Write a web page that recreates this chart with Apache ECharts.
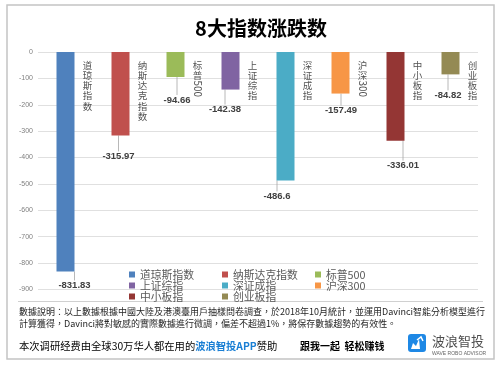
<!DOCTYPE html>
<html>
<head>
<meta charset="utf-8">
<script src="https://cdn.jsdelivr.net/npm/echarts@6/dist/echarts.min.js"></script>
<style>
html,body{margin:0;padding:0;background:#fff;}
#c{width:500px;height:366px;}
</style>
</head>
<body>
<div id="c"></div>
<script>
// ---- data ----
const categories = ['道琼斯指数','纳斯达克指数','标普500','上证综指','深证成指','沪深300','中小板指','创业板指'];
const values = [-831.83, -315.97, -94.66, -142.38, -486.6, -157.49, -336.01, -84.82];
const yMin = -900, yMax = 0, yStep = 100;
const titleText = '8大指数涨跌数';
const noteLine1 = '數據說明：以上數據根據中國大陸及港澳臺用戶抽樣問卷調查，於2018年10月統計，並運用Davinci智能分析模型進行';
const noteLine2 = '計算獲得，Davinci將對敏感的實際數據進行微調，偏差不超過1%，將保存數據趨勢的有效性。';
const sponsorA = '本次调研经费由全球30万华人都在用的';
const sponsorB = '波浪智投APP';
const sponsorC = '赞助';
const slogan = '跟我一起  轻松赚钱';
const brand = '波浪智投';
const brandSub = 'WAVE ROBO ADVISOR';

// ---- style ----
const colors = ['#4F81BD','#C0504D','#9BBB59','#8064A2','#4BACC6','#F79646','#943634','#948A54'];
const labelShift = [[9,9],[-2,16],[1.5,18],[-5.5,15],[-8.5,11],[0.5,12],[7.5,20],[-2.5,16]];
const FONT = '"Noto Sans CJK SC","Noto Sans",sans-serif';
const FONT_TC = '"Noto Sans CJK TC","Noto Sans",sans-serif';

const chart = echarts.init(document.getElementById('c'), null, {renderer:'canvas'});

const barSeries = categories.map((name, i) => ({
  name: name,
  type: 'bar',
  stack: 'all',
  barWidth: 18,
  itemStyle: {color: colors[i]},
  data: categories.map((c, j) => j === i ? values[i] : '-'),
  label: {
    show: true, position: 'bottom', distance: 0,
    fontSize: 9.5, fontWeight: 'bold', color: '#404040', fontFamily: 'Liberation Sans, sans-serif',
    formatter: p => String(p.value)
  },
  labelLayout: {dx: labelShift[i][0], dy: labelShift[i][1]},
  labelLine: {show: true, lineStyle: {color: '#a6a6a6', width: 0.8}}
}));

const cjkPart = n => n.replace(/\d+/g, '').split('').join('\n');
const digitPart = n => { const m = n.match(/\d+/); return m ? m[0] : ''; };

const nameSeries = {
  type: 'scatter', silent: true, symbolSize: 0, z: 5,
  data: categories.map(() => 0),
  label: {
    show: true, position: [22, 8], align: 'center', verticalAlign: 'top',
    fontSize: 9.5, lineHeight: 10.2, color: '#262626', fontFamily: FONT,
    formatter: p => cjkPart(categories[p.dataIndex])
  }
};
const digitSeries = {
  type: 'scatter', silent: true, symbolSize: 0, z: 5,
  data: categories.map(() => 0),
  label: {
    show: true, position: [22, 28.5], rotate: -90, align: 'left', verticalAlign: 'middle',
    fontSize: 10, color: '#262626', fontFamily: FONT,
    formatter: p => digitPart(categories[p.dataIndex])
  }
};

chart.setOption({
  backgroundColor: '#fff',
  animation: false,
  title: {
    text: titleText, left: 256, top: 13, textAlign: 'center',
    textStyle: {fontSize: 20, fontWeight: 'bold', color: '#000', fontFamily: FONT}
  },
  grid: {left: 38, right: 22, top: 52, bottom: 76.5, containLabel: false},
  xAxis: {
    type: 'category', data: categories,
    axisLine: {show: false}, axisTick: {show: false}, axisLabel: {show: false}
  },
  yAxis: {
    type: 'value', min: yMin, max: yMax, interval: yStep,
    axisLine: {show: false}, axisTick: {show: false},
    axisLabel: {fontSize: 7, color: '#7f7f7f', margin: 5, fontFamily: 'Liberation Sans, sans-serif'},
    splitLine: {lineStyle: {color: '#e0e0e0', width: 1}}
  },
  legend: {
    data: categories, left: 124, top: 264, width: 282, itemGap: 0,
    itemWidth: 6, itemHeight: 6, icon: 'rect', selectedMode: false,
    textStyle: {fontSize: 10.8, color: '#595959', width: 82, lineHeight: 11, fontFamily: FONT}
  },
  series: [...barSeries, nameSeries, digitSeries],
  graphic: [
    {type: 'rect', shape: {x: 7, y: 5, width: 487, height: 354}, style: {fill: 'none', stroke: '#c4c4c4', lineWidth: 1.5}, silent: true},
    {type: 'line', shape: {x1: 18, y1: 301.5, x2: 483, y2: 301.5}, style: {stroke: '#d0d0d0', lineWidth: 1}, silent: true},
    {type: 'text', x: 19, y: 307, style: {text: noteLine1, fontSize: 9, fill: '#262626', fontFamily: FONT_TC}, silent: true},
    {type: 'text', x: 19, y: 319, style: {text: noteLine2, fontSize: 9, fill: '#262626', fontFamily: FONT_TC}, silent: true},
    {type: 'text', x: 19, y: 341, style: {
      text: '{a|' + sponsorA + '}{b|' + sponsorB + '}{a|' + sponsorC + '}',
      rich: {
        a: {fontSize: 10.3, fill: '#000', fontFamily: FONT},
        b: {fontSize: 10.3, fill: '#1a7fd4', fontWeight: 'bold', fontFamily: FONT}
      }
    }, silent: true},
    {type: 'text', x: 300, y: 341, style: {text: slogan, fontSize: 10, fontWeight: 'bold', fill: '#000', fontFamily: FONT}, silent: true},
    {type: 'rect', shape: {x: 408, y: 334, width: 18, height: 18, r: 3}, style: {fill: '#1e88e5'}, silent: true},
    {type: 'polygon', shape: {points: [[411,349],[413,343],[416,346],[419,339],[420,349]]}, style: {fill: '#fff'}, silent: true},
    {type: 'polyline', shape: {points: [[417,340],[421,337],[423,341]]}, style: {stroke: '#fff', lineWidth: 1.5, fill: 'none'}, silent: true},
    {type: 'text', x: 432, y: 335, style: {text: brand, fontSize: 13, fill: '#4d4d4d', fontFamily: FONT}, silent: true},
    {type: 'text', x: 432, y: 351, style: {text: brandSub, fontSize: 5, fill: '#666', fontFamily: 'Liberation Sans, sans-serif'}, silent: true}
  ]
});
</script>
</body>
</html>
